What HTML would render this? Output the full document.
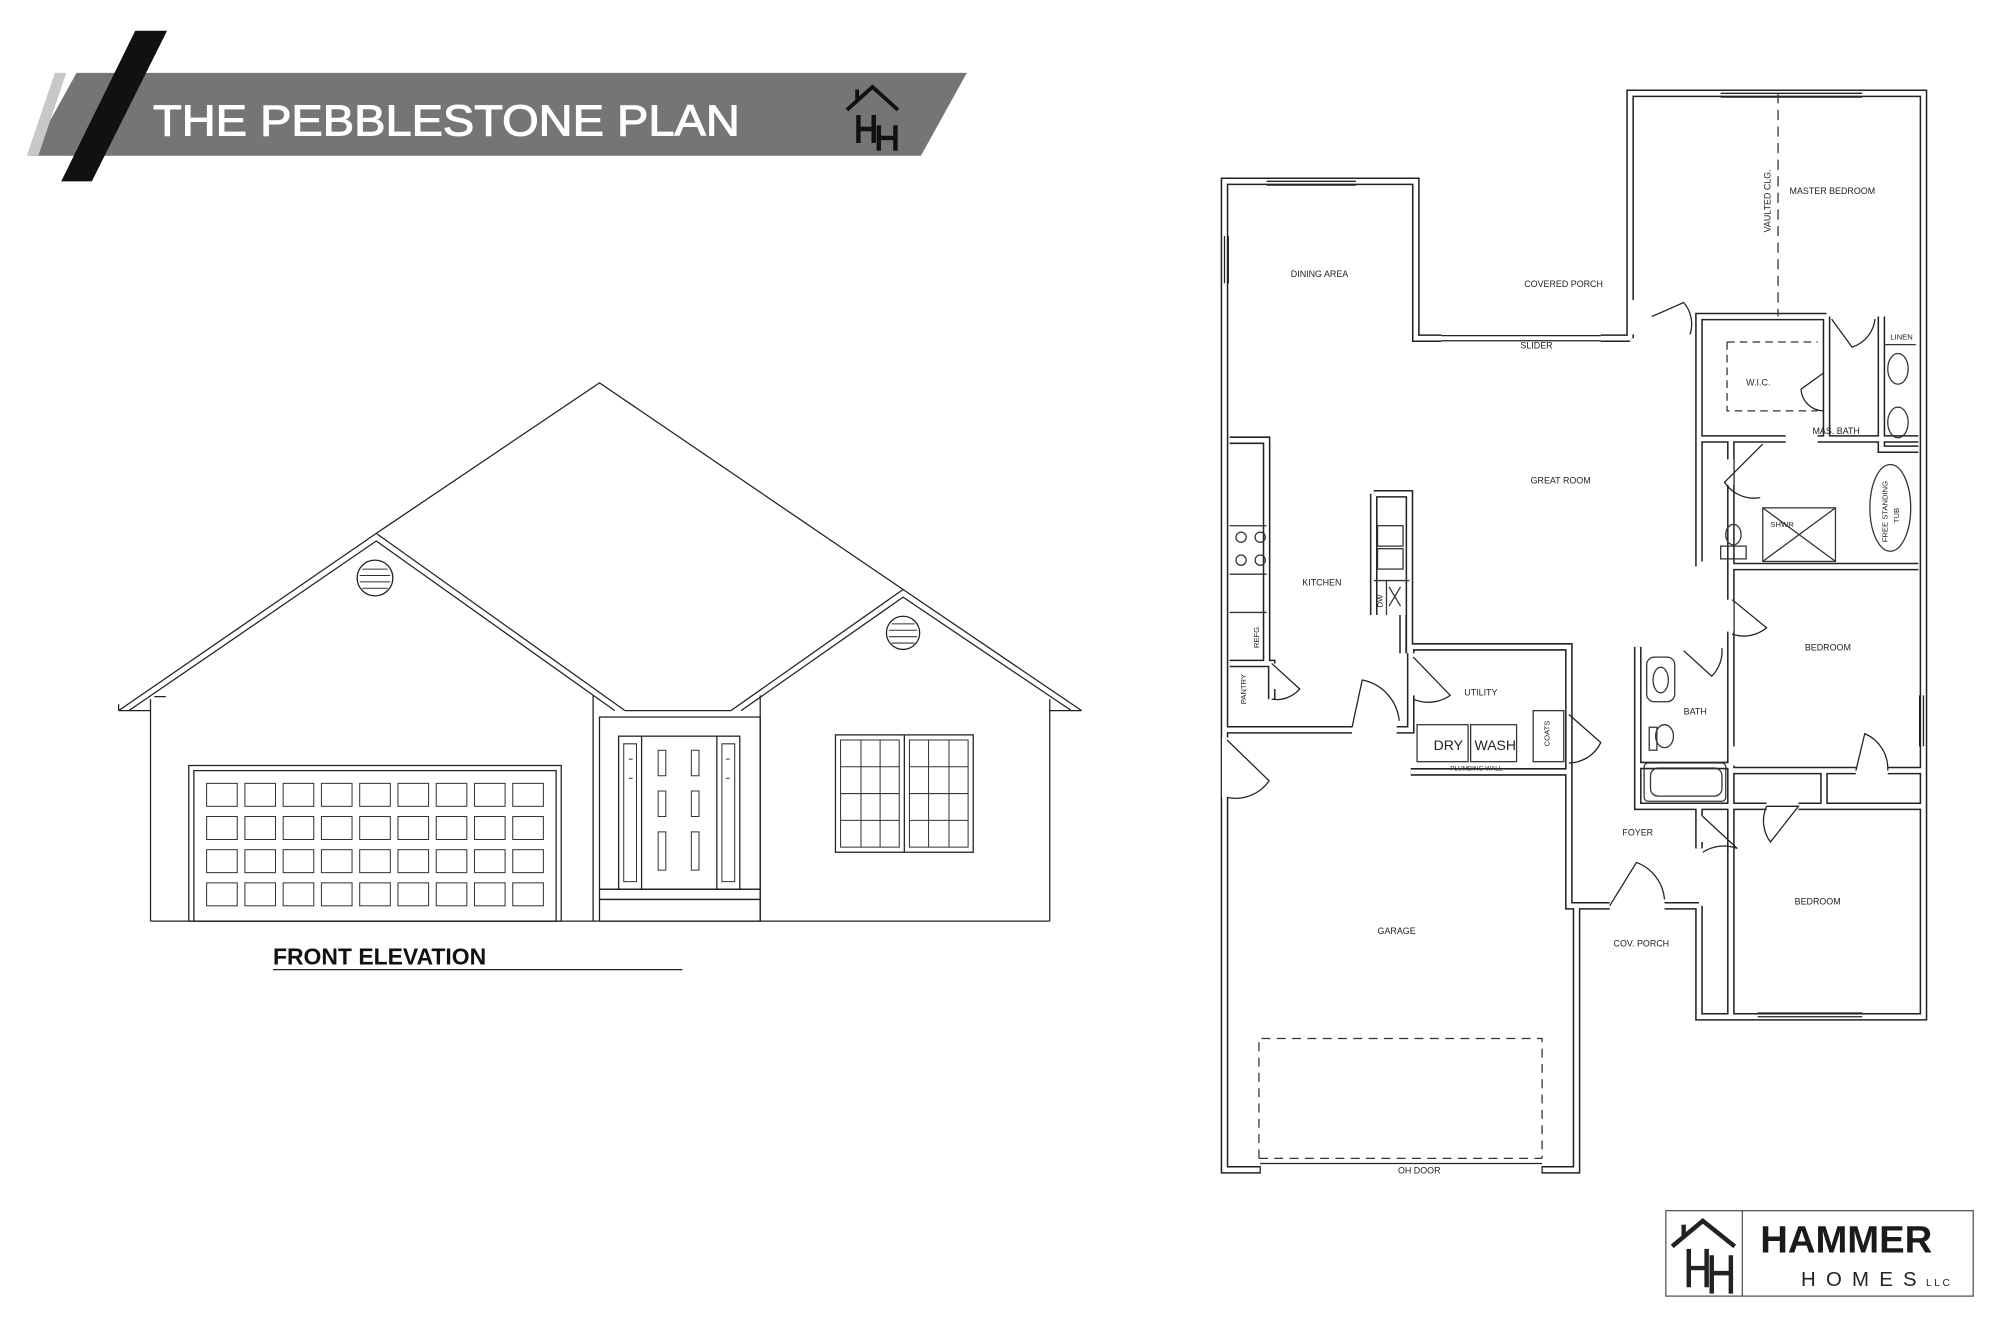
<!DOCTYPE html>
<html><head><meta charset="utf-8"><style>
html,body{margin:0;padding:0;background:#fff;}
svg{display:block}
text{font-family:"Liberation Sans",sans-serif;}
</style></head><body>
<svg width="2000" height="1318" viewBox="0 0 1568 1033" xmlns="http://www.w3.org/2000/svg">
<rect width="1568" height="1033" fill="#fff"/>
<!-- Banner -->
<polygon points="60,57 758,57 722,122 24,122" fill="#757575"/>
<polygon points="33,57 42,57 20,122 11,122" fill="#c8c8c8" transform="translate(10,0)"/>
<polygon points="106,24 131,24 72,142 48,142" fill="#111"/>
<text x="120" y="106" font-size="34" fill="#fff" stroke="#fff" stroke-width="0.8" textLength="460" lengthAdjust="spacingAndGlyphs">THE PEBBLESTONE PLAN</text>
<g stroke="#111" stroke-width="3" fill="none">
<polyline points="664,86 684,68 704,86"/>
<line x1="672" y1="79" x2="672" y2="70"/>
<path d="M673,90 v22 M685,90 v22 M673,101 h12 M689,98 v20 M702,98 v20 M689,108 h13" stroke-width="3.5"/>
</g>
<!-- Front elevation -->
<g stroke="#222" stroke-width="1" fill="none">
<polyline points="295,418 470,300 708,462"/>
<polyline points="93,557 295,418 490,557"/>
<polyline points="101,557 295,424 482,557"/>
<polyline points="573,557 708,462 848,557"/>
<polyline points="581,557 708,468 840,557"/>
<line x1="93" y1="557" x2="118" y2="557"/><line x1="93" y1="557" x2="93" y2="552"/>
<line x1="465" y1="545" x2="465" y2="722"/><line x1="490" y1="557" x2="573" y2="557"/>
<line x1="823" y1="557" x2="848" y2="557"/>
<line x1="118" y1="548" x2="118" y2="722"/><line x1="823" y1="548" x2="823" y2="722"/>
<line x1="596" y1="545" x2="596" y2="722"/>
<line x1="118" y1="722" x2="823" y2="722"/>
<line x1="121" y1="546" x2="130" y2="546"/>
<rect x="148" y="600" width="292" height="122"/>
<rect x="152" y="604" width="284" height="118"/>
<rect x="470" y="562" width="126" height="135"/>
<rect x="485" y="577" width="95" height="120"/>
<line x1="503" y1="577" x2="503" y2="697"/><line x1="562" y1="577" x2="562" y2="697"/>
<rect x="470" y="697" width="126" height="8"/><rect x="470" y="705" width="126" height="17"/>
<rect x="655" y="576" width="108" height="92"/>
<line x1="709" y1="576" x2="709" y2="668"/>
<circle cx="294" cy="453" r="14"/><circle cx="708" cy="496" r="13"/>
<text x="214" y="756" font-size="18" font-weight="bold" fill="#111" stroke="none">FRONT ELEVATION</text>
<line x1="214" y1="760" x2="535" y2="760"/>
</g>
<g stroke="#333" stroke-width="0.8" fill="none">
<g>
<rect x="162" y="614" width="24" height="18"/><rect x="192" y="614" width="24" height="18"/><rect x="222" y="614" width="24" height="18"/><rect x="252" y="614" width="24" height="18"/><rect x="282" y="614" width="24" height="18"/><rect x="312" y="614" width="24" height="18"/><rect x="342" y="614" width="24" height="18"/><rect x="372" y="614" width="24" height="18"/><rect x="402" y="614" width="24" height="18"/>
<rect x="162" y="640" width="24" height="18"/><rect x="192" y="640" width="24" height="18"/><rect x="222" y="640" width="24" height="18"/><rect x="252" y="640" width="24" height="18"/><rect x="282" y="640" width="24" height="18"/><rect x="312" y="640" width="24" height="18"/><rect x="342" y="640" width="24" height="18"/><rect x="372" y="640" width="24" height="18"/><rect x="402" y="640" width="24" height="18"/>
<rect x="162" y="666" width="24" height="18"/><rect x="192" y="666" width="24" height="18"/><rect x="222" y="666" width="24" height="18"/><rect x="252" y="666" width="24" height="18"/><rect x="282" y="666" width="24" height="18"/><rect x="312" y="666" width="24" height="18"/><rect x="342" y="666" width="24" height="18"/><rect x="372" y="666" width="24" height="18"/><rect x="402" y="666" width="24" height="18"/>
<rect x="162" y="692" width="24" height="18"/><rect x="192" y="692" width="24" height="18"/><rect x="222" y="692" width="24" height="18"/><rect x="252" y="692" width="24" height="18"/><rect x="282" y="692" width="24" height="18"/><rect x="312" y="692" width="24" height="18"/><rect x="342" y="692" width="24" height="18"/><rect x="372" y="692" width="24" height="18"/><rect x="402" y="692" width="24" height="18"/>
</g>
<path d="M659,580 h46 v84 h-46z M713,580 h46 v84 h-46z M659,601 h46 M659,622 h46 M659,643 h46 M675,580 v84 M690,580 v84 M713,601 h46 M713,622 h46 M713,643 h46 M728,580 v84 M744,580 v84"/>
<path d="M516,588 h6 v20 h-6z M542,588 h6 v20 h-6z M516,620 h6 v20 h-6z M542,620 h6 v20 h-6z M516,652 h6 v30 h-6z M542,652 h6 v30 h-6z M489,583 h10 v108 h-10z M566,583 h10 v108 h-10z"/>
<path d="M493,595 h3 M493,610 h3 M569,595 h3 M569,610 h3"/>
<path d="M284,446 h20 M282,451 h24 M282,456 h24 M284,461 h20 M699,489 h18 M697,494 h22 M697,499 h22 M699,504 h18"/>
</g>
<!-- Floor plan walls -->
<g fill="none" stroke-linejoin="miter">
<g stroke="#222" stroke-width="6">
<path d="M1278,265 V73 H1508 V797 H1332 V710 M1236,710 V917 H960 V142 H1110 V265 H1278"/>
<path d="M960,572 H1106 V507 H1230 V605 H1106 M1230,572 V710 H1236 M1284,507 V632 H1357 V444 H1504 M1357,444 V344 H1504 M1332,444 V248 H1432 M1332,344 H1432 V248 M1475,248 V352 H1504 M1357,632 V797 M1357,632 H1508 M1357,604 H1508 M1430,604 V632 M1236,710 H1332 M1332,632 V665 M1284,600 H1357"/>
<path d="M1100,512 V482 M1077,387 H1105 V512 M1077,387 V482 M964,345 H993 V520 M964,520 H997 V548"/>
</g>
<g stroke="#fff" stroke-width="3.6">
<path d="M1278,265 V73 H1508 V797 H1332 V710 M1236,710 V917 H960 V142 H1110 V265 H1278"/>
<path d="M960,572 H1106 V507 H1230 V605 H1106 M1230,572 V710 H1236 M1284,507 V632 H1357 V444 H1504 M1357,444 V344 H1504 M1332,444 V248 H1432 M1332,344 H1432 V248 M1475,248 V352 H1504 M1357,632 V797 M1357,632 H1508 M1357,604 H1508 M1430,604 V632 M1236,710 H1332 M1332,632 V665 M1284,600 H1357"/>
<path d="M1100,512 V482 M1077,387 H1105 V512 M1077,387 V482 M964,345 H993 V520 M964,520 H997 V548"/>
</g>
<g stroke="#fff" stroke-width="8">
<path d="M1130,265 H1255 M1283,235 V262 M1294,248 H1325 M1436,248 H1470 M1332,444 H1350 M1355,470 V495 M1320,507 H1350 M1360,585 V600 M1455,604 H1480 M1385,632 H1410 M1335,640 V660 M1262,710 H1305 M962,578 V625 M1060,572 H1095 M1110,512 V545 M1205,580 V600 M1000,520 V540 M1355,360 V380 M1400,344 H1425 M988,917 H1209"/>
</g>
<g stroke="#222" stroke-width="1">
<path d="M988,912 H1209 M988,914 V920 M1209,914 V920"/>
<path d="M993,142 H1063 M993,145 H1063 M1349,73 H1460 M1349,76 H1460 M1378,797 H1460 M1378,794 H1460 M960,185 V222 M963,185 V222 M1508,545 V585 M1505,545 V585 M1130,263 H1255 M1130,267 H1255"/>
<path d="M1295,248 L1320,237 A26,26 0 0 1 1325,262"/>
<path d="M1436,250 L1452,272 A26,26 0 0 0 1470,250"/>
<path d="M1358,470 L1385,492 A28,28 0 0 1 1358,497"/>
<path d="M1320,510 L1342,530 A28,28 0 0 0 1350,508"/>
<path d="M1455,604 L1462,575 A30,30 0 0 1 1480,604"/>
<path d="M1385,632 L1410,632 L1388,660 A28,28 0 0 1 1385,632"/>
<path d="M1335,640 L1362,665 A30,30 0 0 0 1335,668"/>
<path d="M1262,710 L1283,676 A34,34 0 0 1 1305,705"/>
<path d="M962,580 L995,612 A32,32 0 0 1 962,625"/>
<path d="M1060,570 L1068,533 A36,36 0 0 1 1097,565"/>
<path d="M1108,515 L1137,545 A30,30 0 0 1 1108,548"/>
<path d="M1230,560 L1255,582 A28,28 0 0 1 1230,598"/>
<path d="M997,520 L1019,540 A24,24 0 0 1 997,548"/>
<path d="M1430,292 L1412,305 A18,18 0 0 0 1430,322"/>
<path d="M1382,348 L1352,378 A28,28 0 0 0 1380,390"/>
</g>
<g stroke="#333" stroke-width="1">
<path d="M1394,73 V248" stroke-dasharray="8,5"/>
<path d="M1354,268 H1425 M1354,268 V322 H1425" stroke-dasharray="6,4"/>
<path d="M987,908 V814 H1209 V908 M987,908 H1209" stroke-dasharray="7,5"/>
<ellipse cx="1488" cy="289" rx="8" ry="12"/><ellipse cx="1488" cy="331" rx="8" ry="12"/>
<path d="M1478,270 H1502"/>
<ellipse cx="1482" cy="398" rx="16" ry="34"/>
<rect x="1382" y="398" width="57" height="42"/><path d="M1382,398 L1439,440 M1439,398 L1382,440"/>
<ellipse cx="1359" cy="419" rx="6" ry="8"/><rect x="1349" y="428" width="20" height="10"/>
<rect x="1291" y="515" width="22" height="35" rx="6"/><ellipse cx="1302" cy="533" rx="6" ry="10"/>
<ellipse cx="1305" cy="577" rx="7" ry="9"/><rect x="1293" y="570" width="6" height="18"/>
<rect x="1289" y="598" width="64" height="30" rx="3"/><rect x="1294" y="602" width="56" height="22" rx="6"/>
<rect x="1111" y="568" width="40" height="29"/><rect x="1153" y="568" width="36" height="29"/>
<rect x="1202" y="557" width="24" height="40"/>
<circle cx="973" cy="421" r="4"/><circle cx="988" cy="421" r="4"/><circle cx="973" cy="439" r="4"/><circle cx="988" cy="439" r="4"/>
<path d="M964,412 H993 M964,450 H993 M964,480 H993"/>
<rect x="1080" y="412" width="20" height="16"/><rect x="1080" y="430" width="20" height="16"/>
<path d="M1077,455 H1105 M1087,455 V482 M1089,460 L1098,475 M1098,460 L1089,475"/>
</g>
</g>
<g font-size="7" fill="#222">
<text x="1012" y="217">DINING AREA</text>
<text x="1195" y="225">COVERED PORCH</text>
<text x="1192" y="273">SLIDER</text>
<text x="1403" y="152">MASTER BEDROOM</text>
<text x="1388" y="182" transform="rotate(-90 1388 182)">VAULTED CLG.</text>
<text x="1369" y="302">W.I.C.</text>
<text x="1482" y="266" font-size="6">LINEN</text>
<text x="1421" y="340">MAS. BATH</text>
<text x="1200" y="379">GREAT ROOM</text>
<text x="1388" y="413" font-size="6">SHWR</text>
<text x="1480" y="425" font-size="6" transform="rotate(-90 1480 425)">FREE STANDING</text>
<text x="1489" y="410" font-size="6" transform="rotate(-90 1489 410)">TUB</text>
<text x="1021" y="459">KITCHEN</text>
<text x="1084" y="476" font-size="6" transform="rotate(-90 1084 476)">DW</text>
<text x="987" y="508" font-size="6" transform="rotate(-90 987 508)">REFG.</text>
<text x="977" y="552" font-size="6" transform="rotate(-90 977 552)">PANTRY</text>
<text x="1148" y="545">UTILITY</text>
<text x="1124" y="588" font-size="11">DRY</text>
<text x="1156" y="588" font-size="11">WASH</text>
<text x="1215" y="585" font-size="6" transform="rotate(-90 1215 585)">COATS</text>
<text x="1137" y="604" font-size="5">PLUMBING WALL</text>
<text x="1415" y="510">BEDROOM</text>
<text x="1320" y="560">BATH</text>
<text x="1272" y="655">FOYER</text>
<text x="1407" y="709">BEDROOM</text>
<text x="1080" y="732">GARAGE</text>
<text x="1265" y="742">COV. PORCH</text>
<text x="1096" y="920">OH DOOR</text>
</g>
<rect x="1306" y="949" width="241" height="67" fill="none" stroke="#555" stroke-width="1"/>
<line x1="1366" y1="949" x2="1366" y2="1016" stroke="#555"/>
<g stroke="#222" stroke-width="3.5" fill="none">
<polyline points="1311,977 1335,957 1360,977"/>
<line x1="1320" y1="970" x2="1320" y2="960"/>
<path d="M1324,979 v30 M1338,979 v30 M1324,994 h14 M1342,984 v30 M1357,984 v30 M1342,998 h15"/>
</g>
<text x="1380" y="982" font-size="30" font-weight="bold" fill="#1a1a1a">HAMMER</text>
<text x="1412" y="1008" font-size="16" fill="#222" letter-spacing="8">HOMES</text>
<text x="1510" y="1008" font-size="8" fill="#222" letter-spacing="2">LLC</text>
</svg>
</body></html>
